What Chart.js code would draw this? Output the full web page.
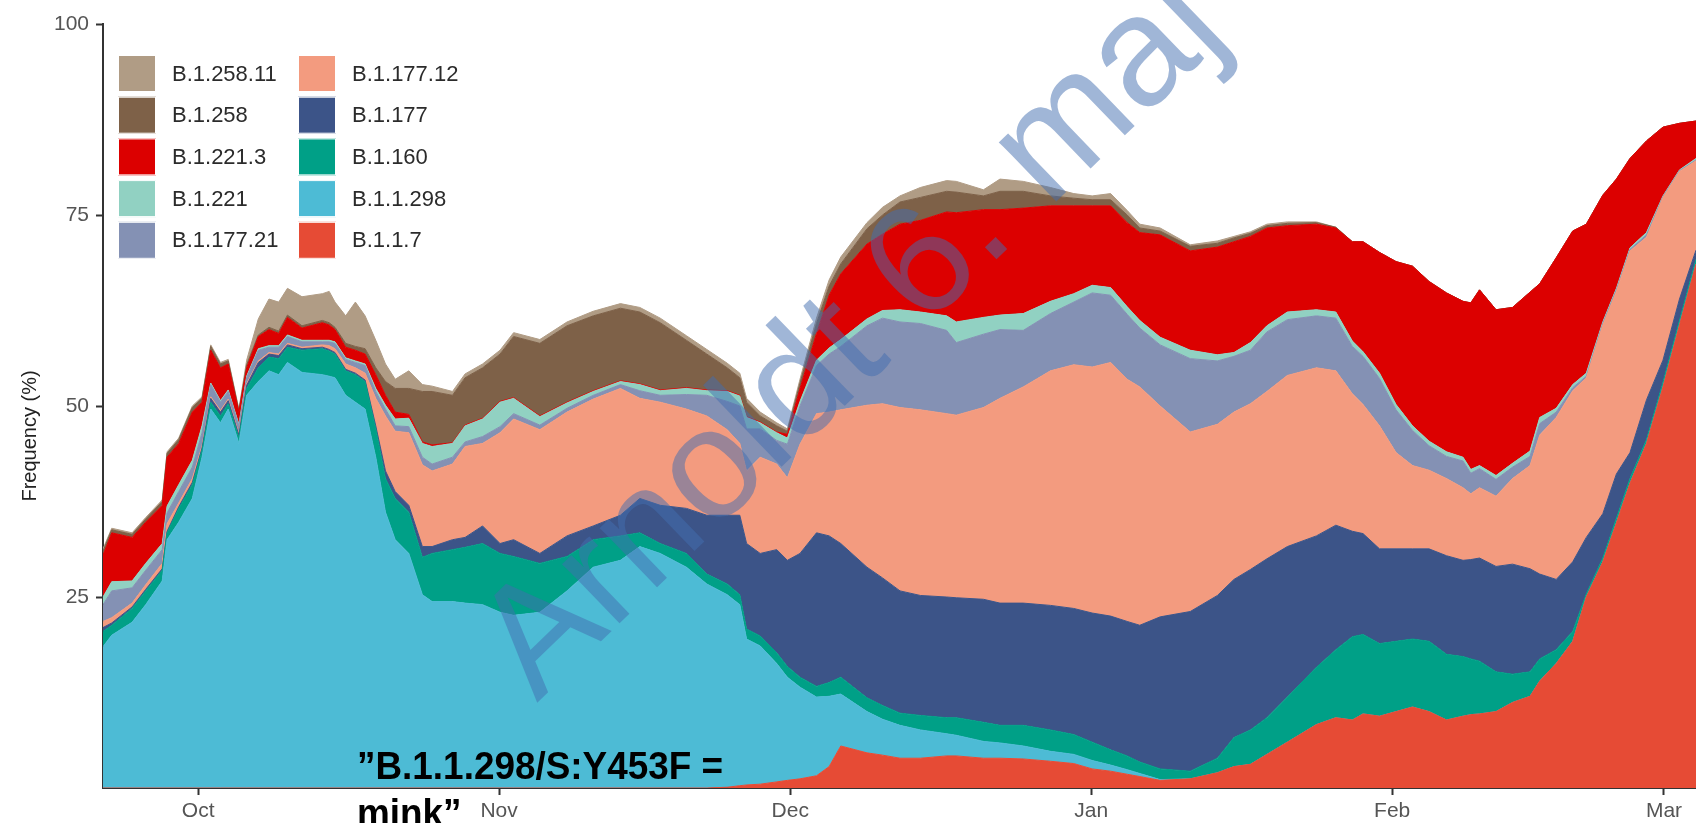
<!DOCTYPE html>
<html>
<head>
<meta charset="utf-8">
<title>Lineage frequencies</title>
<script src="https://cdn.jsdelivr.net/npm/chart.js@4.4.1/dist/chart.umd.min.js"></script>
<style>
  html, body { margin: 0; padding: 0; background: #fff; }
  #wrap { width: 1696px; height: 823px; }
</style>
</head>
<body>
<div id="wrap"><canvas id="chart" width="1696" height="823"></canvas></div>
<script>
// Sample dates as days after 1 October (negative = late September).
const days = [
  -9.8, -8.9, -6.8, -5.4, -3.7, -3.2, -2.0, -0.6, 0.4, 1.3,
  2.3, 3.1, 4.2, 5.0, 6.2, 7.3, 8.3, 9.2, 10.7, 12.8,
  13.5, 14.1, 15.2, 16.2, 17.2, 18.3, 19.3, 20.3, 21.7, 23.1,
  24.1, 26.2, 27.5, 29.3, 31.1, 32.5, 35.2, 38.0, 40.7, 43.5,
  45.5, 47.6, 50.3, 52.4, 54.5, 55.8, 56.5, 57.9, 59.6, 60.7,
  62.0, 63.7, 65.0, 66.2, 68.9, 70.5, 72.3, 74.4, 77.1, 78.1,
  80.9, 82.6, 85.0, 87.8, 90.2, 92.1, 94.0, 95.7, 97.0, 99.1,
  102.2, 105.0, 106.7, 108.4, 110.1, 112.2, 115.2, 117.2, 118.9, 120.0,
  121.7, 123.4, 125.1, 126.8, 128.6, 130.3, 131.1, 132.0, 133.7, 135.4,
  137.2, 138.2, 139.9, 141.6, 143.0, 144.7, 146.1, 147.5, 149.2, 150.9,
  152.6, 154.3
];

// Frequency (%) of each lineage, listed from the bottom of the stack upwards.
const freqB117 = [
  0, 0, 0, 0, 0, 0, 0, 0, 0, 0,
  0, 0, 0, 0, 0, 0, 0, 0, 0, 0,
  0, 0, 0, 0, 0, 0, 0, 0, 0, 0,
  0, 0, 0, 0, 0, 0, 0, 0, 0, 0,
  0, 0, 0, 0, 0.1, 0.3, 0.4, 0.5, 0.8, 1.0,
  1.2, 1.6, 2.8, 5.5, 4.6, 4.3, 3.9, 3.9, 4.2, 4.2,
  3.9, 3.9, 3.8, 3.5, 3.2, 2.5, 2.2, 1.8, 1.5, 1.0,
  1.2, 2.0, 2.8, 3.1, 4.4, 6.0, 8.3, 9.2, 8.9, 9.7,
  9.4, 10.0, 10.6, 10.0, 8.9, 9.4, 9.6, 9.7, 10.0, 11.2,
  12.0, 14.0, 16.3, 19.2, 25.0, 29.6, 34.7, 39.9, 45.1, 52.5,
  60.6, 68.6
];
const freqB11298 = [
  18.5, 20.0, 21.7, 24.0, 27.1, 32.5, 34.8, 37.9, 43.3, 49.6,
  47.8, 49.6, 45.1, 51.4, 53.2, 54.6, 54.1, 55.7, 54.4, 54.1,
  53.9, 53.7, 51.4, 50.5, 49.6, 43.3, 36.1, 32.5, 30.7, 25.3,
  24.4, 24.4, 24.2, 24.0, 23.0, 22.6, 23.0, 25.8, 28.9, 29.8,
  31.6, 30.7, 28.9, 26.7, 25.2, 23.7, 19.1, 18.1, 15.5, 13.5,
  12.0, 10.3, 9.2, 6.8, 5.4, 4.7, 4.3, 3.7, 2.9, 2.7,
  2.2, 2.0, 1.7, 1.3, 1.2, 1.1, 0.8, 0.6, 0.4, 0.1,
  0, 0, 0, 0, 0, 0, 0, 0, 0, 0,
  0, 0, 0, 0, 0, 0, 0, 0, 0, 0,
  0, 0, 0, 0, 0, 0, 0, 0, 0, 0,
  0, 0
];
const freqB1160 = [
  2.0, 1.3, 1.8, 1.8, 1.4, 0.9, 1.8, 1.8, 0.9, 0.9,
  0.9, 0.7, 0.7, 0.9, 1.8, 1.8, 2.1, 2.0, 2.9, 3.4,
  3.3, 3.1, 3.2, 3.6, 3.6, 3.7, 4.4, 5.4, 5.4, 4.9,
  6.3, 6.8, 7.3, 8.0, 7.7, 7.7, 6.4, 4.5, 3.6, 3.2,
  1.8, 1.3, 1.8, 1.3, 1.4, 1.3, 1.3, 1.3, 1.4, 1.4,
  1.3, 1.4, 1.8, 2.2, 1.8, 1.8, 1.6, 1.9, 2.1, 2.3,
  2.5, 2.3, 2.7, 2.8, 2.6, 2.4, 2.0, 1.8, 1.5, 1.4,
  1.0, 1.9, 3.8, 4.5, 4.8, 5.9, 7.5, 8.9, 10.9, 10.4,
  9.5, 9.2, 8.9, 9.2, 8.6, 7.8, 7.3, 6.9, 5.2, 3.7,
  3.2, 2.9, 1.8, 1.3, 0.4, 0.5, 0.6, 0.6, 0.5, 0.6,
  0.6, 0.6
];
const freqB1177 = [
  0.5, 0.3, 0.2, 0.2, 0.2, 0.2, 0.2, 0.3, 0.3, 0.5,
  0.5, 0.4, 0.4, 0.4, 0.7, 0.4, 0.4, 0.3, 0.2, 0.2,
  0.2, 0.2, 0.2, 0.2, 0.2, 0.4, 1.0, 0.9, 0.9, 1.4,
  0.9, 1.3, 1.3, 2.3, 1.3, 2.2, 1.3, 2.7, 1.8, 2.7,
  4.5, 5.0, 5.9, 7.7, 9.0, 10.4, 11.2, 10.8, 13.5, 13.9,
  16.2, 20.1, 19.2, 17.5, 17.1, 16.7, 16.0, 15.7, 15.8, 15.7,
  16.1, 16.0, 16.0, 16.3, 16.5, 16.9, 17.5, 17.6, 17.9, 19.9,
  20.9, 21.3, 20.7, 21.0, 20.8, 19.7, 17.2, 16.3, 13.8, 13.2,
  12.4, 12.1, 11.8, 12.1, 12.9, 12.6, 13.0, 13.5, 13.8, 14.4,
  13.5, 11.1, 9.2, 9.1, 7.4, 5.8, 5.8, 3.4, 5.2, 2.9,
  2.8, 1.2
];
const freqB117712 = [
  0.8, 0.7, 0.5, 0.6, 0.7, 1.0, 0.5, 0.5, 0.3, 0.2,
  0.2, 0.2, 0.2, 0.2, 0.2, 0.2, 0.2, 0.2, 0.2, 0.3,
  0.5, 0.5, 0.7, 0.7, 0.9, 3.6, 7.2, 7.9, 9.5, 10.7,
  9.9, 9.9, 11.9, 10.8, 14.5, 15.8, 16.2, 16.2, 16.6, 16.6,
  13.1, 13.5, 13.0, 13.0, 11.2, 9.4, 9.5, 12.6, 11.2, 10.8,
  14.3, 15.6, 16.2, 17.5, 21.2, 22.8, 24.0, 24.3, 24.0, 23.9,
  25.1, 26.8, 28.3, 30.7, 31.9, 32.2, 33.2, 31.7, 31.2, 27.6,
  23.5, 22.4, 21.9, 21.7, 21.9, 22.4, 22.0, 20.2, 18.0, 16.9,
  16.1, 12.6, 10.9, 10.3, 10.1, 9.5, 8.6, 9.2, 9.2, 11.2,
  13.5, 18.2, 21.2, 22.4, 20.9, 24.7, 23.9, 26.4, 21.3, 21.3,
  16.7, 11.7
];
const freqB117721 = [
  2.2, 3.5, 2.0, 1.9, 1.8, 1.4, 1.5, 1.5, 1.7, 1.6,
  1.1, 1.0, 1.0, 0.8, 1.4, 0.7, 0.9, 0.9, 0.7, 0.4,
  0.5, 0.7, 0.6, 0.7, 1.0, 0.9, 0.9, 0.7, 0.8, 1.0,
  0.9, 0.9, 0.6, 0.9, 0.8, 0.7, 0.6, 0.5, 0.5, 0.5,
  1.0, 0.9, 1.9, 2.7, 3.7, 4.9, 5.5, 3.7, 3.1, 4.4,
  5.0, 6.3, 7.6, 8.3, 10.4, 11.2, 11.2, 11.3, 10.9, 9.5,
  9.6, 9.0, 7.4, 7.5, 8.2, 9.7, 8.8, 8.5, 7.7, 8.0,
  9.6, 8.3, 7.3, 7.0, 7.8, 7.3, 6.8, 6.9, 6.2, 6.3,
  6.2, 5.6, 4.6, 3.2, 2.9, 3.5, 2.7, 2.5, 2.2, 1.5,
  1.2, 1.5, 0.7, 0.4, 0.2, 0.2, 0.2, 0.2, 0.3, 0.1,
  0.1, 0.1
];
const freqB1221 = [
  1.0, 1.2, 0.9, 0.9, 0.8, 0.9, 0.9, 0.9, 0.9, 0.2,
  0.2, 0.2, 0.2, 0.2, 0.2, 0.2, 0.2, 0.2, 0.2, 0.2,
  0.2, 0.2, 0.2, 0.2, 0.2, 0.4, 0.5, 0.9, 1.1, 1.8,
  2.3, 1.8, 2.1, 2.3, 3.2, 2.0, 1.1, 0.7, 0.5, 0.4,
  0.8, 0.6, 0.8, 0.6, 1.3, 1.3, 1.5, 0.8, 1.0, 0.8,
  0.6, 0.7, 0.8, 0.9, 0.9, 1.0, 1.6, 1.5, 1.9, 2.7,
  2.2, 1.9, 2.2, 1.6, 1.1, 1.0, 1.0, 1.0, 1.0, 1.0,
  1.1, 0.8, 0.5, 1.0, 0.8, 1.0, 0.8, 0.8, 0.7, 0.6,
  0.7, 0.7, 0.6, 0.6, 0.6, 0.5, 0.5, 0.4, 0.5, 0.5,
  0.7, 0.8, 0.5, 0.4, 0.4, 0.2, 0.2, 0.2, 0.3, 0.1,
  0.1, 0.2
];
const freqB12213 = [
  5.5, 6.4, 5.7, 5.4, 5.0, 6.4, 5.4, 6.3, 3.1, 4.3,
  4.3, 3.4, 1.6, 1.1, 1.6, 2.1, 1.6, 2.3, 1.6, 2.3,
  2.0, 1.6, 1.4, 1.4, 1.3, 1.8, 1.3, 0.9, 0.5, 0.2,
  0.2, 0.1, 0.1, 0.1, 0.1, 0.1, 0.1, 0.1, 0.1, 0.1,
  0.1, 0.1, 0.1, 0.1, 0.1, 0.1, 0.1, 0.1, 0.1, 0.5,
  1.7, 3.5, 6.9, 8.6, 9.8, 10.0, 11.2, 12.0, 13.6, 14.3,
  14.1, 13.8, 13.8, 12.5, 11.5, 10.4, 10.7, 11.0, 11.5, 13.4,
  13.0, 14.1, 14.5, 13.9, 12.8, 11.3, 11.2, 11.0, 13.0, 14.4,
  15.8, 18.7, 20.9, 20.9, 20.8, 20.4, 21.8, 23.0, 21.7, 20.4,
  20.8, 17.5, 19.7, 20.1, 19.5, 16.6, 14.3, 11.7, 12.0, 9.0,
  6.1, 4.9
];
const freqB1258 = [
  0.5, 0.4, 0.4, 0.4, 0.5, 0.5, 0.5, 0.6, 0.5, 0.5,
  0.5, 0.4, 0.2, 0.4, 0.2, 0.3, 0.3, 0.3, 0.3, 0.3,
  0.3, 0.3, 0.5, 0.5, 0.7, 0.9, 1.8, 3.1, 3.4, 6.6,
  7.0, 6.2, 6.2, 6.6, 6.2, 8.0, 9.5, 10.0, 9.8, 9.5,
  9.4, 8.8, 6.2, 4.7, 3.0, 2.3, 1.9, 0.8, 0.8, 0.4,
  0.7, 1.3, 1.2, 1.3, 2.0, 2.5, 2.9, 3.0, 2.7, 2.7,
  1.8, 2.4, 2.2, 1.3, 1.0, 0.8, 0.8, 1.0, 0.6, 0.5,
  0.6, 0.5, 0.5, 0.4, 0.3, 0.3, 0.2, 0.1, 0, 0,
  0, 0, 0, 0, 0, 0, 0, 0, 0, 0,
  0, 0, 0, 0, 0, 0, 0, 0, 0, 0,
  0, 0
];
const freqB125811 = [
  0.3, 0.2, 0.2, 0.2, 0.2, 0.2, 0.2, 0.2, 0.2, 0.2,
  0.2, 0.2, 0.2, 0.6, 2.1, 3.7, 3.8, 3.5, 3.8, 3.5,
  4.1, 3.3, 3.6, 5.8, 4.3, 3.6, 2.3, 1.2, 2.3, 0.9,
  0.7, 0.5, 0.5, 0.5, 0.5, 0.5, 0.5, 0.5, 0.6, 0.6,
  0.6, 0.6, 0.6, 0.6, 0.6, 0.6, 0.5, 0.5, 0.4, 0.3,
  0.5, 0.7, 0.8, 0.9, 0.8, 1.0, 0.8, 1.3, 1.4, 1.4,
  0.8, 1.6, 1.3, 1.1, 0.6, 0.5, 0.8, 0.6, 0.5, 0.4,
  0.2, 0.3, 0.2, 0.2, 0.2, 0.2, 0.1, 0, 0, 0,
  0, 0, 0, 0, 0, 0, 0, 0, 0, 0,
  0, 0, 0, 0, 0, 0, 0, 0, 0, 0,
  0, 0
];

const lineageNames = ['B.1.1.7', 'B.1.1.298', 'B.1.160', 'B.1.177', 'B.1.177.12',
                      'B.1.177.21', 'B.1.221', 'B.1.221.3', 'B.1.258', 'B.1.258.11'];
const lineageFreqs = [freqB117, freqB11298, freqB1160, freqB1177, freqB117712,
                      freqB117721, freqB1221, freqB12213, freqB1258, freqB125811];

// Month ticks (days after 1 October) and their labels.
const monthTickDays = [0, 31, 61, 92, 123, 151];
const monthTickLabels = ['Oct', 'Nov', 'Dec', 'Jan', 'Feb', 'Mar'];
const yTickValues = [25, 50, 75, 100];

const yAxisTitle = 'Frequency (%)';
const noteLines = ['\u201DB.1.1.298/S:Y453F =', 'mink\u201D'];
const stampText = 'Arnoldt 6. maj';

// NPG-style palette, bottom layer first.
const palette = ['#E64B35', '#4DBBD5', '#00A087', '#3C5488', '#F39B7F',
                 '#8491B4', '#91D1C2', '#DC0000', '#7E6148', '#B09C85'];

const FONT = '"Liberation Sans", Arial, Helvetica, sans-serif';
Chart.defaults.font.family = FONT;

const datasets = lineageNames.map((name, k) => ({
  label: name,
  data: days.map((d, i) => ({ x: d, y: lineageFreqs[k][i] })),
  backgroundColor: palette[k],
  borderColor: palette[k],
  borderWidth: 1,
  pointRadius: 0,
  tension: 0,
  fill: k === 0 ? 'origin' : '-1'
}));

// Two-column key inside the plot, the y title, the note and the stamp.
const overlays = {
  id: 'overlays',
  afterDraw(chart) {
    const ctx = chart.ctx;
    const items = chart.data.datasets.slice().reverse();
    const colX = [118, 298], textX = [172, 352];
    const top0 = 55, pitch = 41.7, sw = 38, sh = 37;
    ctx.save();
    items.forEach((ds, i) => {
      const col = Math.floor(i / 5), row = i % 5;
      const x = colX[col], y = top0 + row * pitch;
      ctx.fillStyle = ds.backgroundColor;
      ctx.fillRect(x, y, sw, sh);
      ctx.strokeStyle = '#ffffff';
      ctx.lineWidth = 1;
      ctx.strokeRect(x + 0.5, y + 0.5, sw - 1, sh - 1);
      ctx.fillStyle = '#2b2b2b';
      ctx.font = '22px ' + FONT;
      ctx.textAlign = 'left';
      ctx.textBaseline = 'middle';
      ctx.fillText(ds.label, textX[col], y + sh / 2 + 1);
    });
    ctx.restore();

    // y axis title
    ctx.save();
    ctx.translate(30, 436);
    ctx.rotate(-Math.PI / 2);
    ctx.font = '20px ' + FONT;
    ctx.fillStyle = '#222222';
    ctx.textAlign = 'center';
    ctx.textBaseline = 'middle';
    ctx.fillText(yAxisTitle, 0, 0);
    ctx.restore();

    // note about the mink-associated variant
    ctx.save();
    ctx.font = 'bold 39px ' + FONT;
    ctx.fillStyle = '#000000';
    ctx.textAlign = 'left';
    ctx.textBaseline = 'alphabetic';
    ctx.translate(357, 0);
    ctx.scale(0.946, 1);
    ctx.fillText(noteLines[0], 0, 779);
    ctx.fillText(noteLines[1], 0, 826);
    ctx.restore();

    // translucent diagonal stamp
    ctx.save();
    ctx.translate(537, 703);
    ctx.rotate(-44 * Math.PI / 180);
    ctx.font = '156px ' + FONT;
    ctx.fillStyle = 'rgba(65, 110, 175, 0.5)';
    ctx.textAlign = 'left';
    ctx.textBaseline = 'alphabetic';
    ctx.fillText(stampText, 0, 0);
    ctx.restore();
  }
};

new Chart(document.getElementById('chart'), {
  type: 'line',
  data: { datasets },
  options: {
    responsive: false,
    animation: false,
    devicePixelRatio: 1,
    layout: { padding: { top: 24, right: 0, bottom: 0, left: 0 } },
    plugins: { legend: { display: false }, tooltip: { enabled: false } },
    scales: {
      x: {
        type: 'linear',
        min: -9.8,
        max: 154.3,
        afterBuildTicks: s => { s.ticks = monthTickDays.map(v => ({ value: v })); },
        afterFit: s => { s.height = 35; },
        ticks: {
          callback: v => monthTickLabels[monthTickDays.indexOf(v)],
          color: '#555555',
          font: { size: 21 },
          padding: 4,
          autoSkip: false,
          maxRotation: 0
        },
        grid: { drawOnChartArea: false, tickLength: 7, tickColor: '#333333', tickWidth: 2 },
        border: { display: true, color: '#333333', width: 2 }
      },
      y: {
        stacked: true,
        min: 0,
        max: 100,
        afterBuildTicks: s => { s.ticks = yTickValues.map(v => ({ value: v })); },
        afterFit: s => { s.width = 103; },
        ticks: { color: '#555555', font: { size: 21 }, padding: 7 },
        grid: { drawOnChartArea: false, tickLength: 7, tickColor: '#333333', tickWidth: 2 },
        border: { display: true, color: '#333333', width: 2 }
      }
    }
  },
  plugins: [overlays]
});
</script>
</body>
</html>
